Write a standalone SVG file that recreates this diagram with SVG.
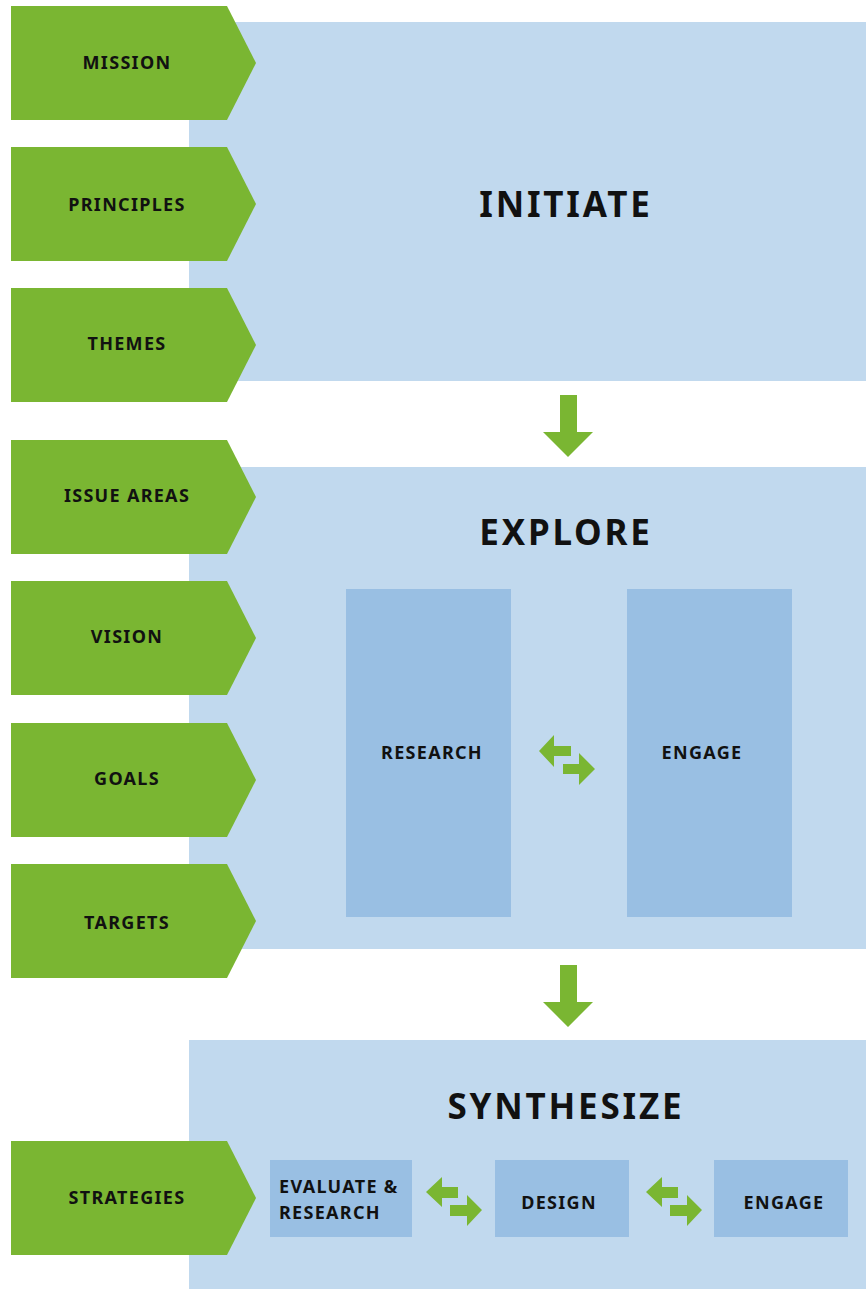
<svg xmlns="http://www.w3.org/2000/svg" width="866" height="1289" viewBox="0 0 866 1289">
<defs>
<style>
.panel{fill:#C1D9EE}
.box{fill:#99BFE3}
.tab{fill:#7AB632}
.arr{fill:#7AB632}
.lbl{font-family:"Noto Sans","DejaVu Sans",sans-serif;font-weight:bold;font-size:18px;fill:#111;text-anchor:middle;letter-spacing:1.3px}
.ttl{font-family:"Noto Sans","DejaVu Sans",sans-serif;font-weight:bold;font-size:35px;fill:#111;text-anchor:middle;letter-spacing:2.8px}
</style>
<polygon id="tabshape" points="11,0 227,0 256,57 227,114 11,114"/>
</defs>
<rect width="866" height="1289" fill="#fff"/>
<g id="initiate"><rect class="panel" x="189" y="22" width="677" height="359"/><text class="ttl" x="566" y="217">INITIATE</text></g>
<g id="explore"><rect class="panel" x="189" y="467" width="677" height="482"/><text class="ttl" x="566" y="545">EXPLORE</text></g>
<g id="synthesize"><rect class="panel" x="189" y="1040" width="677" height="249"/><text class="ttl" x="566" y="1119">SYNTHESIZE</text></g>
<g id="research"><rect class="box" x="346" y="589" width="165" height="328"/><text class="lbl" x="432" y="759">RESEARCH</text></g>
<g id="engage1"><rect class="box" x="627" y="589" width="165" height="328"/><text class="lbl" x="702" y="759">ENGAGE</text></g>
<g id="evaluate"><rect class="box" x="270" y="1160" width="142" height="77"/><text class="lbl" x="279" y="1193" style="text-anchor:start">EVALUATE &amp;</text><text class="lbl" x="279" y="1219" style="text-anchor:start">RESEARCH</text></g>
<g id="design"><rect class="box" x="495" y="1160" width="134" height="77"/><text class="lbl" x="559" y="1209">DESIGN</text></g>
<g id="engage2"><rect class="box" x="714" y="1160" width="134" height="77"/><text class="lbl" x="784" y="1209">ENGAGE</text></g>
<g id="mission"><use href="#tabshape" class="tab" y="6"/><text class="lbl" x="127" y="69">MISSION</text></g>
<g id="principles"><use href="#tabshape" class="tab" y="147"/><text class="lbl" x="127" y="211">PRINCIPLES</text></g>
<g id="themes"><use href="#tabshape" class="tab" y="288"/><text class="lbl" x="127" y="350">THEMES</text></g>
<g id="issueareas"><use href="#tabshape" class="tab" y="440"/><text class="lbl" x="127" y="502">ISSUE AREAS</text></g>
<g id="vision"><use href="#tabshape" class="tab" y="581"/><text class="lbl" x="127" y="643">VISION</text></g>
<g id="goals"><use href="#tabshape" class="tab" y="723"/><text class="lbl" x="127" y="785">GOALS</text></g>
<g id="targets"><use href="#tabshape" class="tab" y="864"/><text class="lbl" x="127" y="929">TARGETS</text></g>
<g id="strategies"><use href="#tabshape" class="tab" y="1141"/><text class="lbl" x="127" y="1204">STRATEGIES</text></g>
<g id="connectors">
<polygon class="arr" points="560,395 577,395 577,432 593,432 568,457 543,432 560,432"/>
<polygon class="arr" points="560,965 577,965 577,1002 593,1002 568,1027 543,1002 560,1002"/>
<polygon class="arr" points="539,751 554,735 554,746 571,746 571,756 554,756 554,767"/>
<polygon class="arr" points="595,769 579,753 579,764 563,764 563,774 579,774 579,785"/>
<polygon class="arr" points="426,1192 442,1177 442,1187 458,1187 458,1198 442,1198 442,1207"/>
<polygon class="arr" points="482,1210 467,1195 467,1205 450,1205 450,1216 467,1216 467,1226"/>
<polygon class="arr" points="646,1192 662,1177 662,1187 678,1187 678,1198 662,1198 662,1207"/>
<polygon class="arr" points="702,1210 687,1195 687,1205 670,1205 670,1216 687,1216 687,1226"/>
</g>
</svg>
